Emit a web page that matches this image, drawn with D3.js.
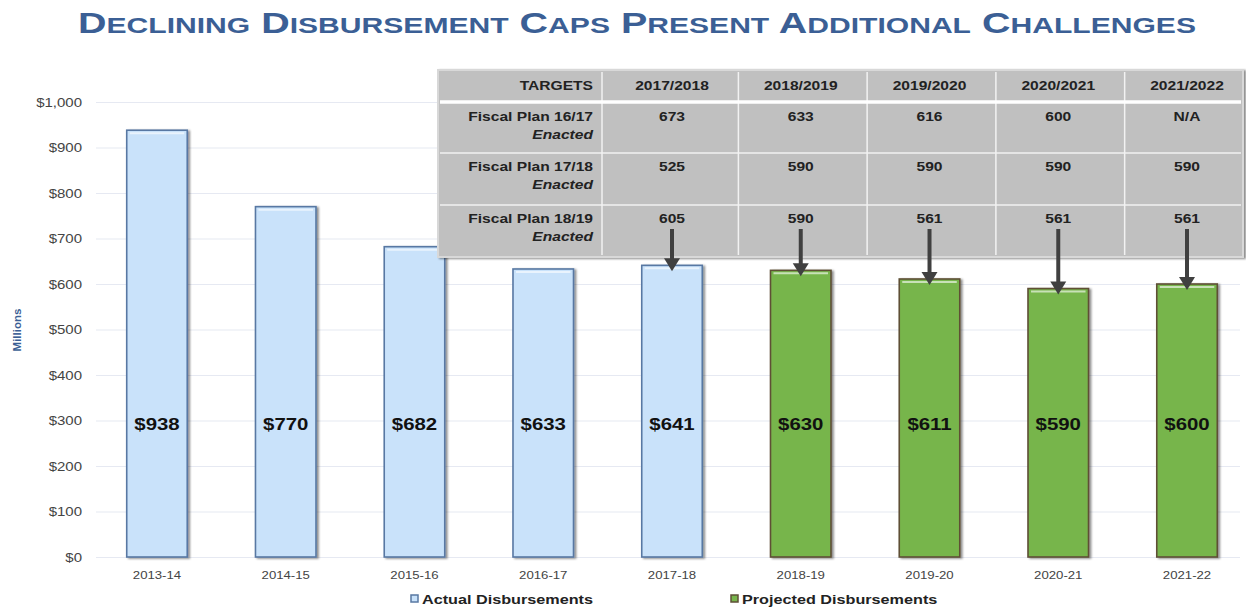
<!DOCTYPE html>
<html>
<head>
<meta charset="utf-8">
<script src="https://cdn.jsdelivr.net/npm/d3@7"></script>
<style>
  body { margin: 0; background: #fff; }
  svg { font-family: Arial, "Liberation Sans", sans-serif; }
</style>
</head>
<body>
<script>
// chart values
const years = ['2013-14', '2014-15', '2015-16', '2016-17', '2017-18', '2018-19', '2019-20', '2020-21', '2021-22'];
const disbursements = [938, 770, 682, 633, 641, 630, 611, 590, 600];
const kinds = ['Actual', 'Actual', 'Actual', 'Actual', 'Actual', 'Projected', 'Projected', 'Projected', 'Projected'];
const yTicks = [0, 100, 200, 300, 400, 500, 600, 700, 800, 900, 1000];

// targets table
const tableYears = ['2017/2018', '2018/2019', '2019/2020', '2020/2021', '2021/2022'];
const tableBars = ['2017-18', '2018-19', '2019-20', '2020-21', '2021-22'];
const planNames = ['Fiscal Plan 16/17', 'Fiscal Plan 17/18', 'Fiscal Plan 18/19'];
const plan1617 = ['673', '633', '616', '600', 'N/A'];
const plan1718 = ['525', '590', '590', '590', '590'];
const plan1819 = ['605', '590', '561', '561', '561'];

const W = 1246, H = 609;
const M = { left: 96, right: 1240, top: 102, bottom: 557 };
const SX = 1.2; // the source slide is stretched sideways, text looks wide

const svg = d3.select('body').append('svg')
    .attr('width', W)
    .attr('height', H);

// move x/y into a transform so the text can be widened in place
function stretch(sel) {
    sel.each(function () {
        const t = d3.select(this);
        const tx = +t.attr('x') || 0, ty = +t.attr('y') || 0;
        t.attr('x', 0).attr('y', 0)
            .attr('transform', `translate(${tx},${ty}) scale(${SX},1)`);
    });
}

const defs = svg.append('defs');
const shadow = defs.append('filter').attr('id', 'shadow')
    .attr('x', '-10%').attr('y', '-10%').attr('width', '130%').attr('height', '130%');
shadow.append('feDropShadow')
    .attr('dx', 2).attr('dy', 1).attr('stdDeviation', 1.2)
    .attr('flood-color', '#000').attr('flood-opacity', 0.45);

const x = d3.scaleBand()
    .domain(years)
    .range([92.6, 1251.4])
    .paddingInner(0.53)
    .paddingOuter(0.265);

const y = d3.scaleLinear()
    .domain([0, 1000])
    .range([M.bottom, M.top]);

// title
const title = svg.append('text')
    .attr('x', 637)
    .attr('y', 33)
    .attr('text-anchor', 'middle')
    .attr('fill', '#3b5f95')
    .attr('font-weight', 'bold')
    .attr('textLength', 1118)
    .attr('lengthAdjust', 'spacingAndGlyphs');
'Declining Disbursement Caps Present Additional Challenges'.split(' ').forEach((w, i) => {
    title.append('tspan').attr('font-size', 29.5).text((i ? ' ' : '') + w[0]);
    title.append('tspan').attr('font-size', 22.5).text(w.slice(1).toUpperCase());
});

// gridlines + y axis
const yAxis = svg.append('g')
    .attr('transform', `translate(${M.left},0)`)
    .call(d3.axisLeft(y)
        .tickValues(yTicks)
        .tickSize(-(M.right - M.left))
        .tickPadding(14)
        .tickFormat(d => '$' + d3.format(',')(d)));
yAxis.select('.domain').remove();
yAxis.selectAll('.tick line').attr('stroke', '#e6e9f2').attr('stroke-width', 1.2);
yAxis.selectAll('.tick text').attr('fill', '#444').attr('font-size', 12.5).call(stretch);

svg.append('text')
    .attr('transform', `translate(21,330) rotate(-90)`)
    .attr('text-anchor', 'middle')
    .attr('fill', '#3b5f95')
    .attr('font-size', 11.5)
    .attr('font-weight', 'bold')
    .text('Millions');

// x axis labels
const xAxis = svg.append('g')
    .attr('transform', `translate(0,${M.bottom})`)
    .call(d3.axisBottom(x).tickSize(0).tickPadding(14));
xAxis.select('.domain').remove();
xAxis.selectAll('.tick text').attr('fill', '#444').attr('font-size', 11).call(stretch);

// bars
const data = years.map((yr, i) => ({ year: yr, value: disbursements[i], kind: kinds[i] }));
const fills = { Actual: '#c9e2fa', Projected: '#77b54c' };
const strokes = { Actual: '#5878a3', Projected: '#5e4f36' };

const bars = svg.append('g').selectAll('g')
    .data(data)
    .join('g');

bars.append('rect')
    .attr('x', d => x(d.year))
    .attr('y', d => y(d.value))
    .attr('width', x.bandwidth())
    .attr('height', d => y(0) - y(d.value))
    .attr('fill', d => fills[d.kind])
    .attr('stroke', d => strokes[d.kind])
    .attr('stroke-width', 1.6)
    .attr('filter', 'url(#shadow)');

// top highlight
bars.append('line')
    .attr('x1', d => x(d.year) + 3)
    .attr('x2', d => x(d.year) + x.bandwidth() - 3)
    .attr('y1', d => y(d.value) + 3)
    .attr('y2', d => y(d.value) + 3)
    .attr('stroke', '#fff')
    .attr('stroke-opacity', 0.6)
    .attr('stroke-width', 2);

bars.append('text')
    .attr('x', d => x(d.year) + x.bandwidth() / 2)
    .attr('y', y(290) + 5)
    .attr('text-anchor', 'middle')
    .attr('font-size', 17)
    .attr('font-weight', 'bold')
    .attr('fill', '#111')
    .text(d => '$' + d.value)
    .call(stretch);

// legend
const legend = svg.append('g');
[['Actual', 'Actual Disbursements', 411], ['Projected', 'Projected Disbursements', 731]].forEach(([k, label, lx]) => {
    legend.append('rect')
        .attr('x', lx).attr('y', 595)
        .attr('width', 7).attr('height', 7)
        .attr('fill', fills[k])
        .attr('stroke', strokes[k]).attr('stroke-width', 1.5);
    legend.append('text')
        .attr('x', lx + 11).attr('y', 604)
        .attr('font-size', 13.5)
        .attr('font-weight', 'bold')
        .attr('fill', '#222')
        .text(label)
        .call(stretch);
});

// targets table
const T = { left: 438, right: 1243, top: 70, rows: [103, 153, 205, 257], firstCol: 602 };
const colCenters = tableBars.map(b => x(b) + x.bandwidth() / 2);
const colEdges = [T.firstCol];
for (let i = 0; i < colCenters.length - 1; i++) colEdges.push((colCenters[i] + colCenters[i + 1]) / 2 + 2);
colEdges.push(T.right);

const table = svg.append('g');
table.append('rect')
    .attr('x', T.left).attr('y', T.top)
    .attr('width', T.right - T.left).attr('height', T.rows[3] - T.top)
    .attr('fill', '#c0c0c0')
    .attr('stroke', '#d8d8d8').attr('stroke-width', 2)
    .attr('filter', 'url(#shadow)');

colEdges.slice(0, -1).forEach(cx => {
    table.append('line')
        .attr('x1', cx).attr('x2', cx)
        .attr('y1', T.top + 2).attr('y2', T.rows[3] - 2)
        .attr('stroke', '#f2f2f2').attr('stroke-width', 1.5);
});
table.append('line')
    .attr('x1', T.left + 2).attr('x2', T.right - 2)
    .attr('y1', 102).attr('y2', 102)
    .attr('stroke', '#fff').attr('stroke-width', 3.5);
[153, 205].forEach(ry => {
    table.append('line')
        .attr('x1', T.left + 2).attr('x2', T.right - 2)
        .attr('y1', ry).attr('y2', ry)
        .attr('stroke', '#f2f2f2').attr('stroke-width', 1.5);
});

const cellText = (tx, ty, txt, anchor, italic) => table.append('text')
    .attr('x', tx).attr('y', ty)
    .attr('text-anchor', anchor)
    .attr('font-size', 13)
    .attr('font-weight', 'bold')
    .attr('font-style', italic ? 'italic' : 'normal')
    .attr('fill', '#222')
    .text(txt)
    .call(stretch);

cellText(T.firstCol - 9, 90, 'TARGETS', 'end');
tableYears.forEach((ty, i) => cellText(colCenters[i], 90, ty, 'middle'));

[plan1617, plan1718, plan1819].forEach((vals, r) => {
    const top = T.rows[r];
    cellText(T.firstCol - 9, top + 18, planNames[r], 'end');
    cellText(T.firstCol - 9, top + 36, 'Enacted', 'end', true);
    vals.forEach((v, i) => cellText(colCenters[i], top + 18, v, 'middle'));
});

// arrows from the 18/19 plan row down to the bars
const arrows = svg.append('g');
tableBars.forEach(b => {
    const cx = x(b) + x.bandwidth() / 2;
    const tip = y(disbursements[years.indexOf(b)]) + 6;
    arrows.append('line')
        .attr('x1', cx).attr('x2', cx)
        .attr('y1', 229).attr('y2', tip - 10)
        .attr('stroke', '#404040').attr('stroke-width', 4);
    arrows.append('path')
        .attr('d', `M${cx - 8},${tip - 13} L${cx + 8},${tip - 13} L${cx},${tip} Z`)
        .attr('fill', '#404040');
});
</script>
</body>
</html>
